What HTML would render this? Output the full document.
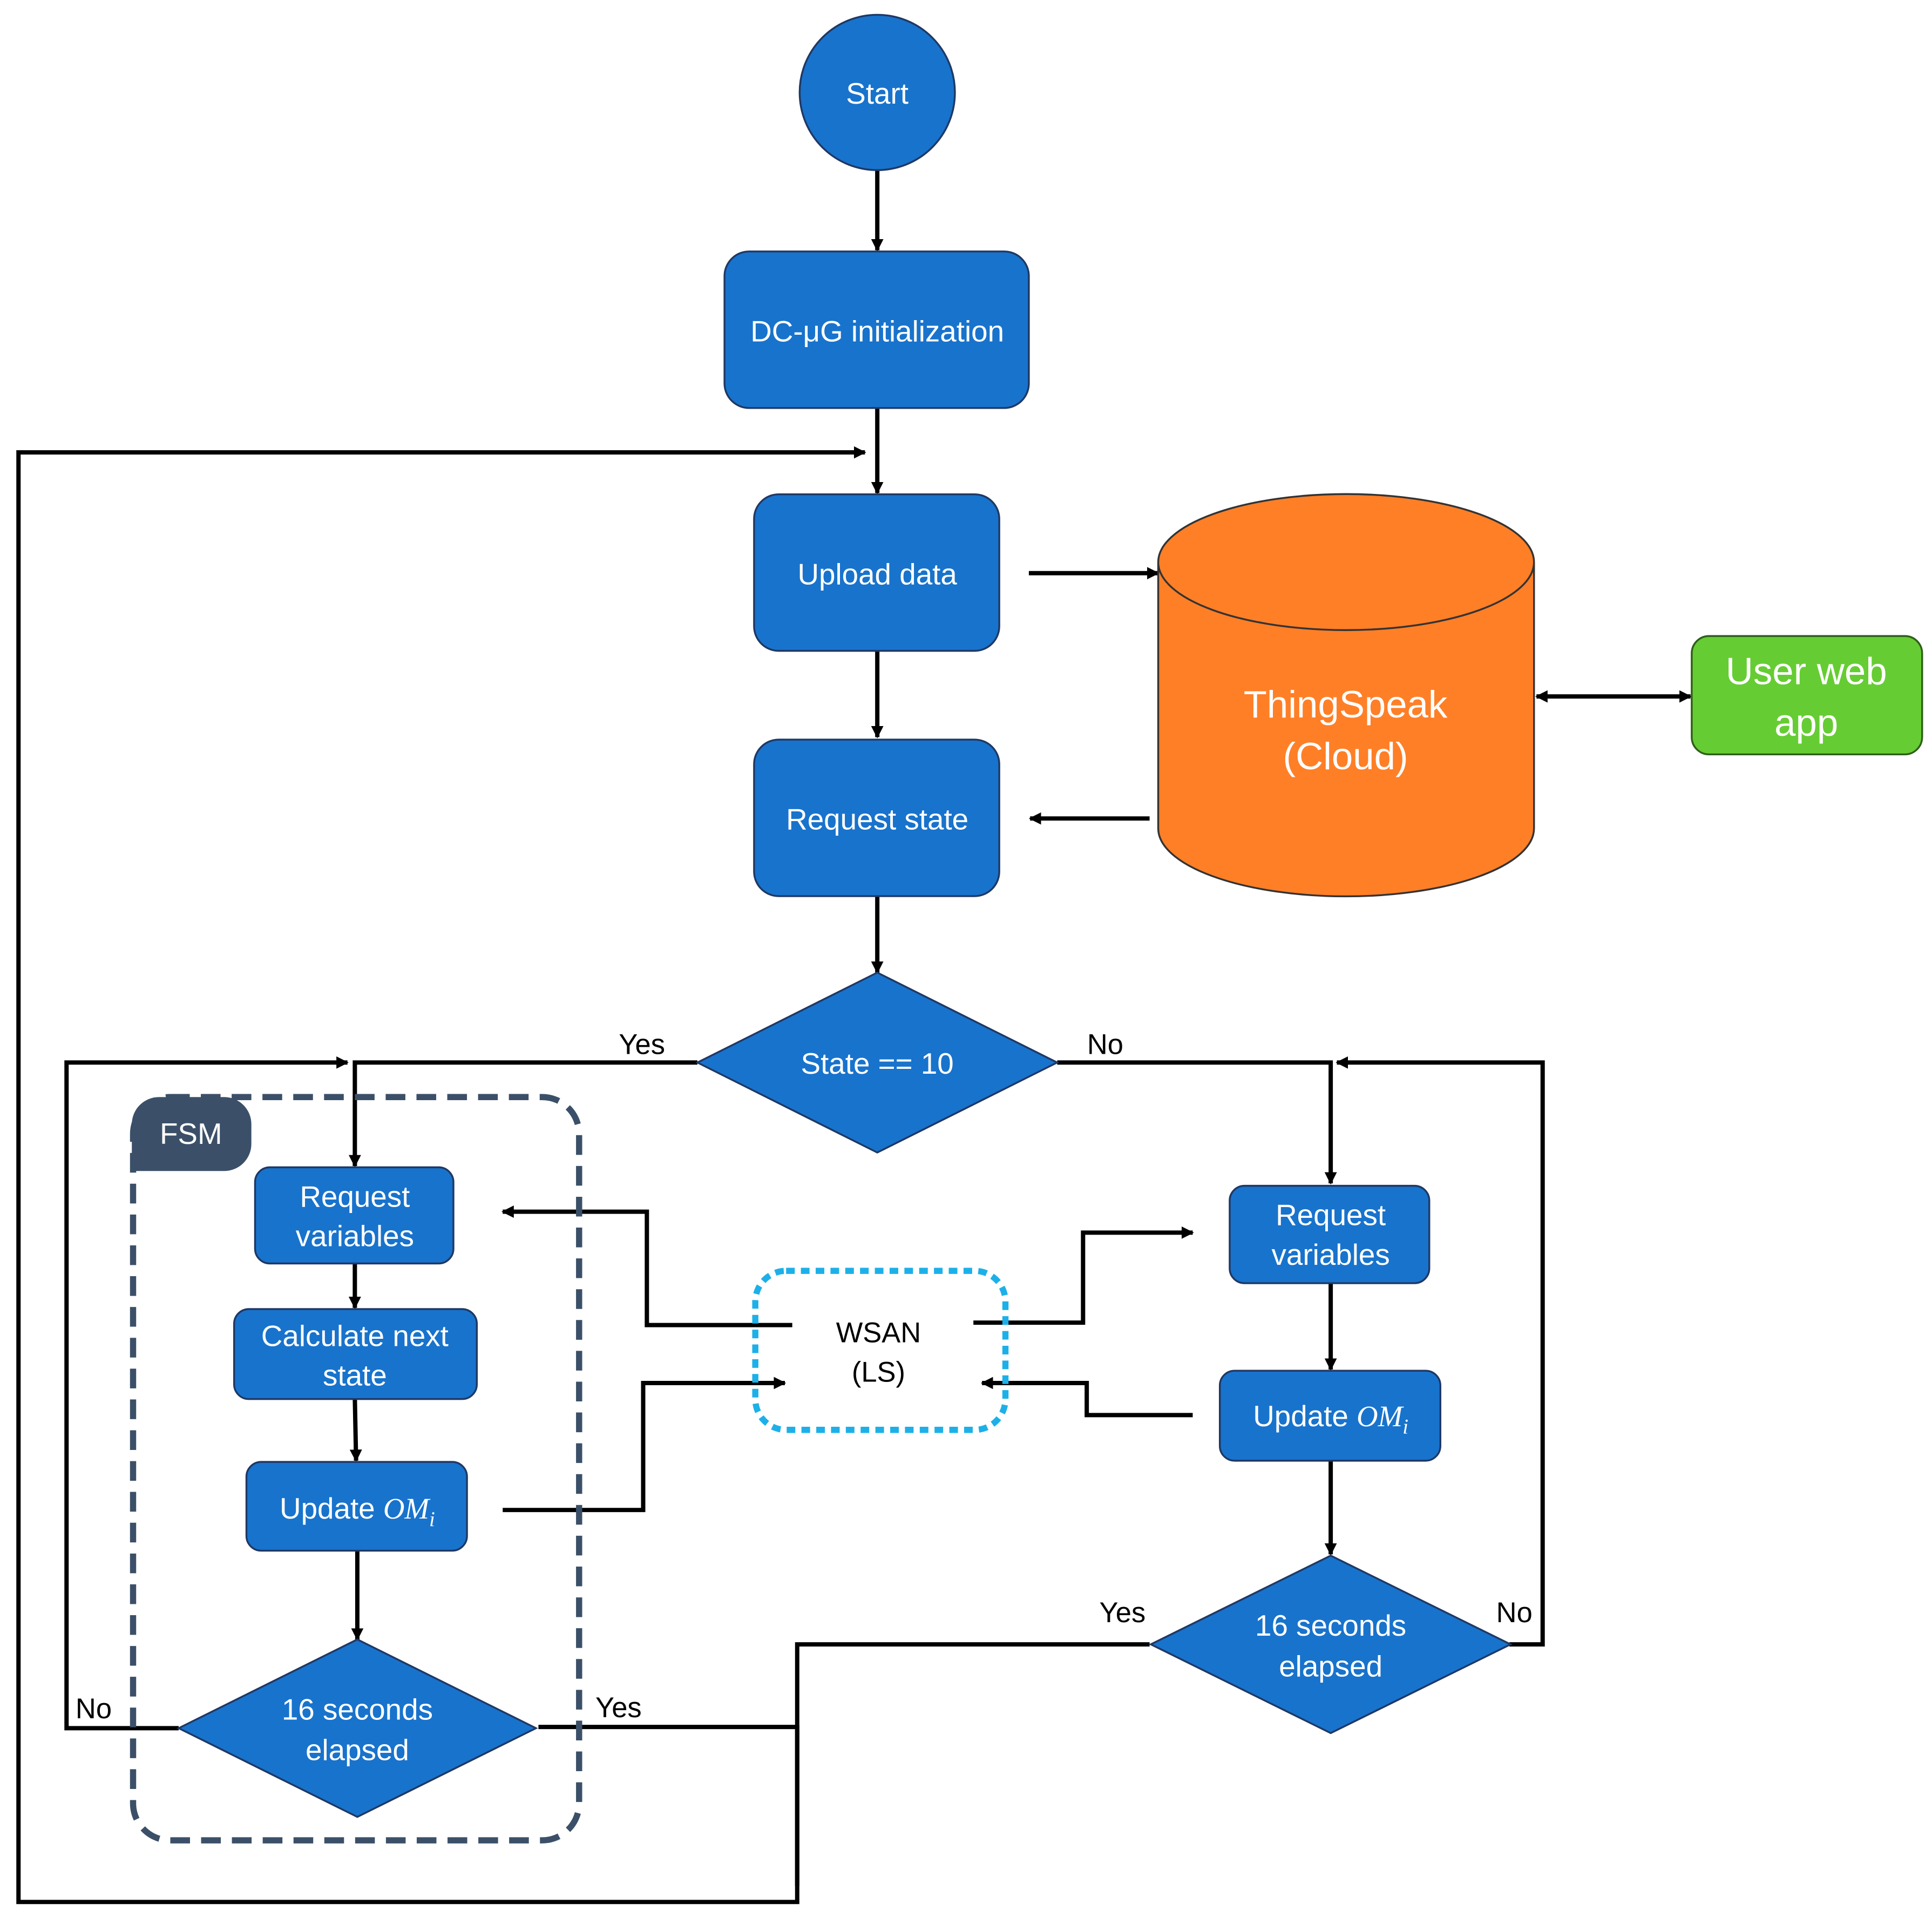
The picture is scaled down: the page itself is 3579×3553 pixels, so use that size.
<!DOCTYPE html>
<html><head><meta charset="utf-8"><style>html,body{margin:0;padding:0;background:#fff}svg{display:block}</style></head>
<body>
<svg width="3579" height="3553" viewBox="0 0 1568 1556" preserveAspectRatio="none" xmlns="http://www.w3.org/2000/svg" font-family="'Liberation Sans', sans-serif">
<defs>
<marker id="a" markerWidth="10" markerHeight="10" refX="9" refY="5" orient="auto" markerUnits="userSpaceOnUse" viewBox="0 0 10 10"><path d="M0,0 L10,5 L0,10 z" fill="#000"/></marker>
<marker id="b" markerWidth="10" markerHeight="10" refX="1" refY="5" orient="auto" markerUnits="userSpaceOnUse" viewBox="0 0 10 10"><path d="M10,0 L0,5 L10,10 z" fill="#000"/></marker>
</defs>
<g fill="none" stroke="#000" stroke-width="3.5">
<path d="M712,138 V203" marker-end="url(#a)"/>
<path d="M712,331 V400" marker-end="url(#a)"/>
<path d="M647,1530 V1334 H933"/>
<path d="M437,1401 H647 V1543 H15 V367 H702" marker-end="url(#a)"/>
<path d="M835,465 H940" marker-end="url(#a)"/>
<path d="M1247,565 H1372" marker-end="url(#a)" marker-start="url(#b)"/>
<path d="M712,528 V598" marker-end="url(#a)"/>
<path d="M933,664 H836" marker-end="url(#a)"/>
<path d="M712,727 V789" marker-end="url(#a)"/>
<path d="M566,862 H288 V946" marker-end="url(#a)"/>
<path d="M858,862 H1080 V960" marker-end="url(#a)"/>
<path d="M145,1402 H54 V862 H282" marker-end="url(#a)"/>
<path d="M1225,1334 H1252 V862 H1085" marker-end="url(#a)"/>
<path d="M288,1025 V1061" marker-end="url(#a)"/>
<path d="M288,1135 L289,1185" marker-end="url(#a)"/>
<path d="M290,1258 V1330" marker-end="url(#a)"/>
<path d="M643,1075 H525 V983 H408" marker-end="url(#a)"/>
<path d="M408,1225 H522 V1122 H637" marker-end="url(#a)"/>
<path d="M790,1073 H879 V1000 H968" marker-end="url(#a)"/>
<path d="M968,1148 H882 V1122 H797" marker-end="url(#a)"/>
<path d="M1080,1041 V1111" marker-end="url(#a)"/>
<path d="M1080,1185 V1261" marker-end="url(#a)"/>
</g>
<rect x="108" y="890" width="362" height="603" rx="30" fill="none" stroke="#3B5068" stroke-width="5" stroke-dasharray="16,9"/>
<path d="M107,950 V912 a22,22 0 0 1 22,-22 H182 a22,22 0 0 1 22,22 V928 a22,22 0 0 1 -22,22 z" fill="#3B5068"/>
<text x="155" y="928" fill="#fff" font-size="24" text-anchor="middle">FSM</text>
<rect x="613" y="1031" width="203" height="129" rx="25" fill="none" stroke="#1DB0E8" stroke-width="5" stroke-dasharray="7,5"/>
<g fill="#1873CC" stroke="#1F3864" stroke-width="1.5">
<circle cx="712" cy="75" r="63"/>
<rect x="588" y="204" width="247" height="127" rx="20"/>
<rect x="612" y="401" width="199" height="127" rx="20"/>
<rect x="612" y="600" width="199" height="127" rx="20"/>
<polygon points="566,862 712,789 858,862 712,935"/>
<rect x="207" y="947" width="161" height="78" rx="12"/>
<rect x="190" y="1062" width="197" height="73" rx="12"/>
<rect x="200" y="1186" width="179" height="72" rx="12"/>
<polygon points="145,1402 290,1330 435,1402 290,1474"/>
<rect x="998" y="962" width="162" height="79" rx="12"/>
<rect x="990" y="1112" width="179" height="73" rx="12"/>
<polygon points="934,1334 1080,1262 1226,1334 1080,1406"/>
</g>
<path d="M940,456 V672 A152,55 0 0 0 1245,672 V456 A152,55 0 0 0 940,456 A152,55 0 0 0 1245,456" fill="#FF7F27" stroke="#333" stroke-width="1.5"/>
<rect x="1373" y="516" width="187" height="96" rx="14" fill="#66CC33" stroke="#2E5E1A" stroke-width="1.5"/>
<g fill="#fff" font-size="24" text-anchor="middle">
<text x="712" y="84">Start</text>
<text x="712" y="277">DC-μG initialization</text>
<text x="712" y="474">Upload data</text>
<text x="712" y="673">Request state</text>
<text x="712" y="871">State == 10</text>
<text x="288" y="979">Request</text><text x="288" y="1011">variables</text>
<text x="288" y="1092">Calculate next</text><text x="288" y="1124">state</text>
<text x="290" y="1232">Update <tspan font-family="'Liberation Serif',serif" font-style="italic">OM<tspan font-size="17" dy="6">i</tspan></tspan></text>
<text x="290" y="1395">16 seconds</text><text x="290" y="1428">elapsed</text>
<text x="1080" y="994">Request</text><text x="1080" y="1026">variables</text>
<text x="1080" y="1157">Update <tspan font-family="'Liberation Serif',serif" font-style="italic">OM<tspan font-size="17" dy="6">i</tspan></tspan></text>
<text x="1080" y="1327">16 seconds</text><text x="1080" y="1360">elapsed</text>
<text x="1092" y="582" font-size="31">ThingSpeak</text><text x="1092" y="624" font-size="31">(Cloud)</text>
<text x="1466" y="555" font-size="31">User web</text><text x="1466" y="597" font-size="31">app</text>
</g>
<g fill="#000" font-size="23" text-anchor="middle">
<text x="713" y="1089">WSAN</text><text x="713" y="1121">(LS)</text>
<text x="521" y="855">Yes</text><text x="897" y="855">No</text>
<text x="76" y="1394">No</text><text x="502" y="1393">Yes</text>
<text x="911" y="1316">Yes</text><text x="1229" y="1316">No</text>
</g>
</svg>
</body></html>
